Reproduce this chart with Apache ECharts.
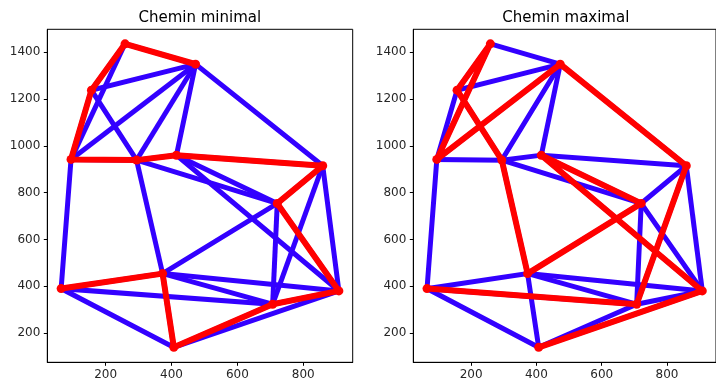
<!DOCTYPE html>
<html>
<head>
<meta charset="utf-8">
<script src="https://cdn.jsdelivr.net/npm/echarts@6/dist/echarts.min.js"></script>
<style>
  html, body {margin: 0; padding: 0; background: #fff;}
  #chart {width: 716px; height: 383px;}
</style>
</head>
<body>
<div id="chart"></div>
<script>
// graph nodes
const nodeNames = ['A', 'B', 'C', 'D', 'E', 'F', 'G', 'H', 'I', 'J', 'K', 'L', 'M'];
const nodeX = [259, 473, 157, 95, 294, 415, 859, 721, 373, 65, 707, 908, 407];
const nodeY = [1436, 1349, 1238, 942, 939, 960, 915, 754, 454, 390, 323, 380, 139];

// all edges (drawn blue)
const edges = [
  ['A', 'B'], ['A', 'C'], ['A', 'D'], ['C', 'B'], ['C', 'D'], ['C', 'E'],
  ['D', 'B'], ['E', 'B'], ['F', 'B'], ['B', 'G'], ['D', 'E'], ['E', 'F'],
  ['F', 'G'], ['E', 'H'], ['F', 'H'], ['F', 'L'], ['D', 'J'], ['E', 'I'],
  ['G', 'H'], ['G', 'L'], ['G', 'K'], ['H', 'K'], ['H', 'L'], ['H', 'I'],
  ['I', 'J'], ['I', 'L'], ['I', 'K'], ['I', 'M'], ['J', 'K'], ['J', 'M'],
  ['M', 'K'], ['M', 'L'], ['K', 'L'],
];

// paths (drawn red)
const minPath = ['J', 'I', 'M', 'K', 'L', 'H', 'G', 'F', 'E', 'D', 'C', 'A', 'B'];
const maxPath = ['J', 'K', 'G', 'B', 'D', 'A', 'C', 'E', 'I', 'H', 'F', 'L', 'M'];

const titles = ['Chemin minimal', 'Chemin maximal'];
const xTicks = [200, 400, 600, 800];
const yTicks = [200, 400, 600, 800, 1000, 1200, 1400];

const pt = name => {
  const i = nodeNames.indexOf(name);
  return [nodeX[i], nodeY[i]];
};

const font = 'DejaVu Sans';
const gridLefts = [47.3, 413.3];
const paths = [minPath, maxPath];

const chart = echarts.init(document.getElementById('chart'));

const option = {
  animation: false,
  backgroundColor: '#fff',
  title: titles.map((t, k) => ({
    text: t,
    left: gridLefts[k] + 147.5,
    top: 6,
    textAlign: 'center',
    textStyle: {fontFamily: font, fontSize: 15, fontWeight: 'normal', color: '#000'}
  })),
  grid: gridLefts.map(l => ({
    left: l, top: 29.3, width: 305.4, height: 333,
    show: true, borderColor: '#000', borderWidth: 1, backgroundColor: 'transparent'
  })),
  xAxis: gridLefts.map((l, k) => ({
    type: 'value', gridIndex: k, min: 23, max: 950,
    splitLine: {show: false},
    axisLine: {show: true, onZero: false, lineStyle: {color: '#000'}},
    axisTick: {show: true, length: 3.5, customValues: xTicks, lineStyle: {color: '#000'}},
    axisLabel: {customValues: xTicks, formatter: v => String(v),
      fontFamily: font, fontSize: 12, color: '#262626', margin: 7}
  })),
  yAxis: gridLefts.map((l, k) => ({
    type: 'value', gridIndex: k, min: 75, max: 1498,
    splitLine: {show: false},
    axisLine: {show: true, onZero: false, lineStyle: {color: '#000'}},
    axisTick: {show: true, length: 3.5, customValues: yTicks, lineStyle: {color: '#000'}},
    axisLabel: {customValues: yTicks, formatter: v => String(v),
      fontFamily: font, fontSize: 12, color: '#262626', margin: 7}
  })),
  series: []
};

paths.forEach((path, k) => {
  option.series.push({
    type: 'lines',
    coordinateSystem: 'cartesian2d',
    xAxisIndex: k, yAxisIndex: k,
    lineStyle: {color: '#3300ff', width: 5, opacity: 1, cap: 'square'},
    data: edges.map(e => ({coords: [pt(e[0]), pt(e[1])]})),
    z: 2
  });
  option.series.push({
    type: 'line',
    xAxisIndex: k, yAxisIndex: k,
    data: path.map(pt),
    symbol: 'circle',
    symbolSize: 9,
    showSymbol: true,
    itemStyle: {color: '#ff0000'},
    lineStyle: {color: '#ff0000', width: 6, join: 'round', cap: 'square'},
    z: 3
  });
});

chart.setOption(option);
</script>
</body>
</html>
